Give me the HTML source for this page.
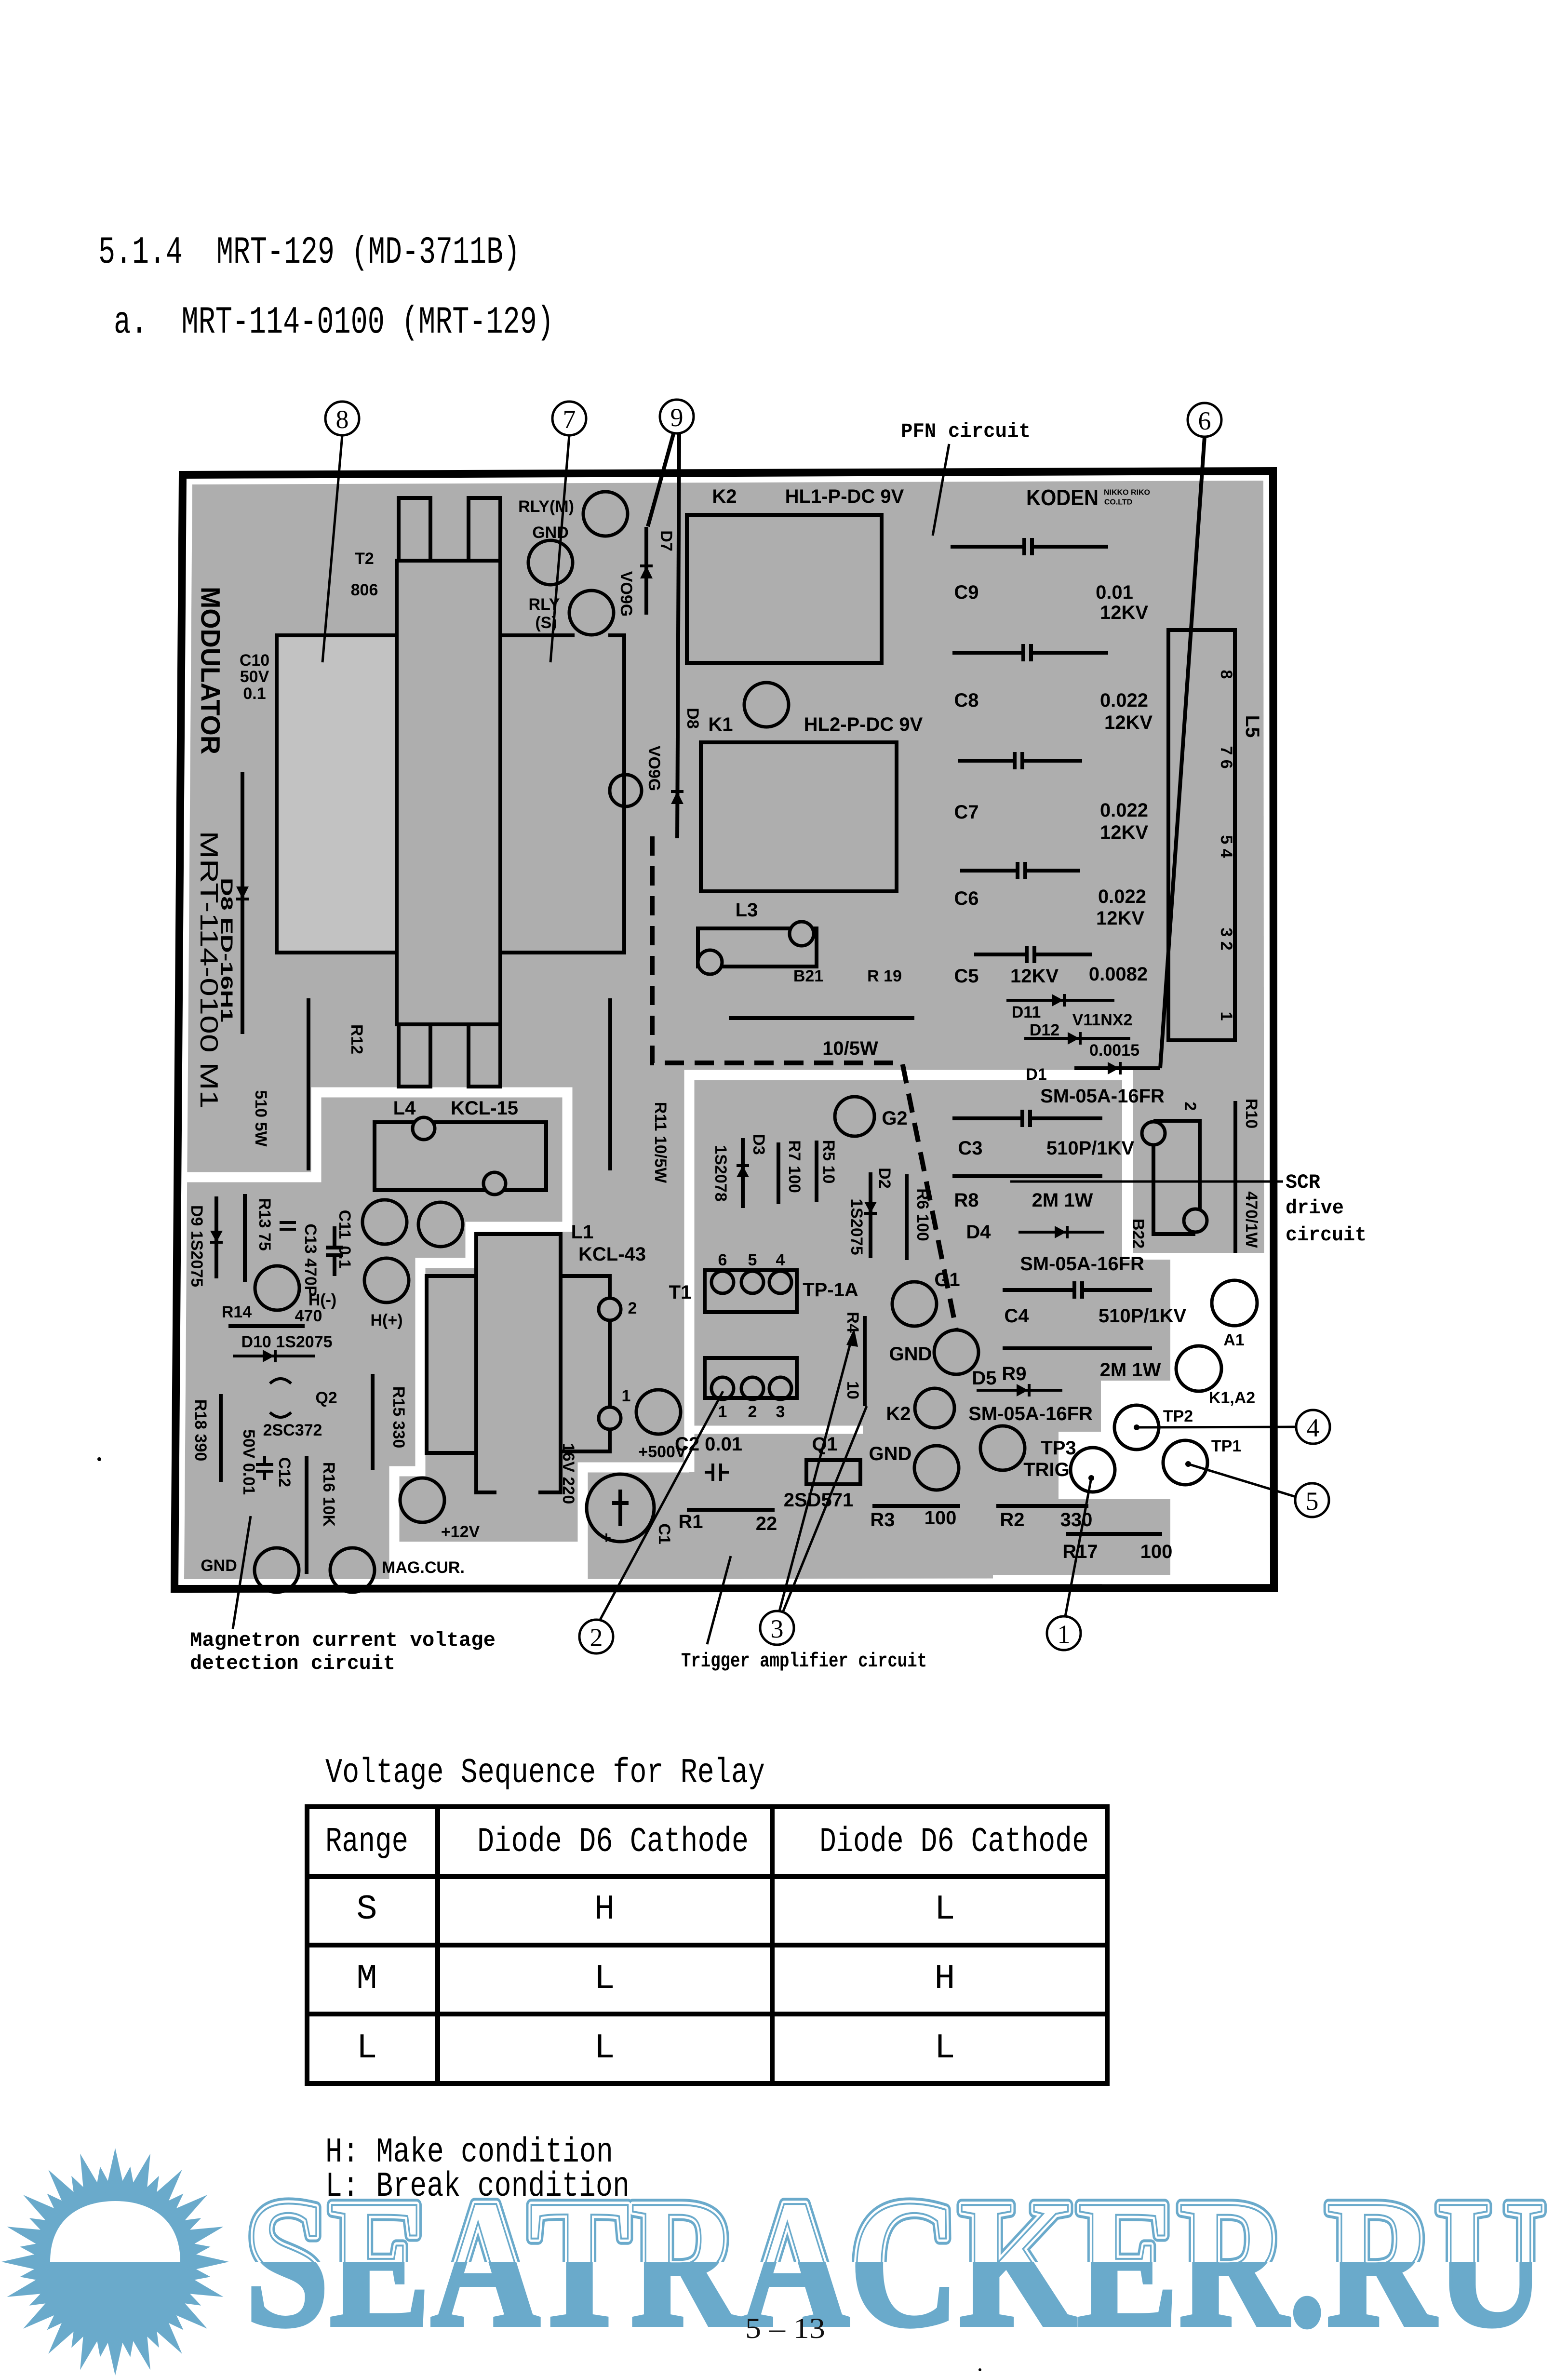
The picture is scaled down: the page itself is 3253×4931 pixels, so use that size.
<!DOCTYPE html>
<html><head><meta charset="utf-8"><title>MRT-129 (MD-3711B)</title>
<style>
html,body{margin:0;padding:0;background:#fff;}
body{width:3253px;height:4931px;overflow:hidden;}
svg{display:block}
.l{stroke:#000;stroke-width:8;fill:none}
.c{stroke:#000;stroke-width:7;fill:none}
.d{fill:#000;stroke:none}
.t{font-family:"Liberation Sans",sans-serif;font-weight:bold;font-size:40px;text-anchor:middle;dominant-baseline:central;fill:#000}
.s{font-size:34px}
.n{font-family:"Liberation Serif",serif;font-size:54px;text-anchor:middle;dominant-baseline:central;fill:#000}
.ty{font-family:"Liberation Mono",monospace;font-weight:bold;font-size:42px;fill:#000}
.mono{font-family:"Liberation Mono",monospace;fill:#000;white-space:pre}
</style></head>
<body>
<svg width="3253" height="4931" viewBox="0 0 3253 4931" xmlns="http://www.w3.org/2000/svg">
<defs>
<clipPath id="ctop"><rect x="0" y="0" width="3253" height="4692"/></clipPath>
<clipPath id="cbot"><rect x="0" y="4692" width="3253" height="300"/></clipPath>
</defs>
<rect width="3253" height="4931" fill="#fff"/>

<!-- Titles -->
<text class="mono" x="204" y="545" style="font-size:80px" textLength="875" lengthAdjust="spacingAndGlyphs">5.1.4  MRT-129 (MD-3711B)</text>
<text class="mono" x="236" y="690" style="font-size:80px" textLength="913" lengthAdjust="spacingAndGlyphs">a.  MRT-114-0100 (MRT-129)</text>

<!-- Board gray -->
<polygon points="399,1005 2621,997 2623,3274 382,3276" fill="#aeaeae"/>
<rect x="578" y="1322" width="241" height="650" fill="#c2c2c2"/>

<!-- White channels -->
<g fill="none" stroke="#fff" stroke-width="21" stroke-linejoin="miter">
<polyline points="375,2442 656,2442 656,2266 1177,2266 1177,2545 976,2545 976,2620 872,2620 872,3052 818,3052 818,3292"/>
<polyline points="1209,3292 1209,3044 1430,3044"/>
<polyline points="1430,3054 1430,2230 2340,2230 2340,2606"/>
</g>
<rect x="808" y="3198" width="411" height="94" fill="#fff"/>
<line x1="1430" y1="2966" x2="1790" y2="2966" stroke="#fff" stroke-width="17"/>
<polygon points="2328,2220 2351,2220 2351,2599 2632,2599 2632,3286 2428,3286 2428,3110 2196,3110 2196,2970 2284,2970 2284,2864 2428,2864 2428,2613 2328,2613" fill="#fff"/>
<rect x="2060" y="3267" width="372" height="20" fill="#fff"/>

<!-- Board border -->
<polygon points="379,985 2641,977 2643,3294 362,3296" fill="none" stroke="#000" stroke-width="16"/>

<!-- T2 transformer -->
<g class="l">
<rect x="827" y="1033" width="66" height="130"/>
<rect x="972" y="1033" width="66" height="130"/>
<rect x="823" y="1163" width="215" height="962"/>
<rect x="827" y="2125" width="66" height="129"/>
<rect x="972" y="2125" width="66" height="129"/>
<path d="M823,1318 H574 V1976 H823"/>
<path d="M1038,1318 H1192 M1262,1318 H1295 V1976 H1038"/>
</g>
<g class="c">
<circle cx="1256" cy="1066" r="46"/>
<circle cx="1142" cy="1167" r="46"/>
<circle cx="1227" cy="1271" r="46"/>
<circle cx="1298" cy="1640" r="33"/>
</g>
<text class="t s" x="1133" y="1051">RLY(M)</text>
<text class="t s" x="1142" y="1105">GND</text>
<text class="t s" x="1129" y="1254">RLY</text>
<text class="t s" x="1133" y="1292">(S)</text>
<text class="t s" x="756" y="1159">T2</text>
<text class="t s" x="756" y="1224">806</text>
<text class="t s" x="528" y="1370">C10</text>
<text class="t s" x="528" y="1404">50V</text>
<text class="t s" x="528" y="1439">0.1</text>
<text class="t s" transform="translate(1299,1232) rotate(90)">VO9G</text>
<text class="t s" transform="translate(1357,1594) rotate(90)">VO9G</text>
<text class="t s" transform="translate(1382,1122) rotate(90)">D7</text>
<text class="t s" transform="translate(1437,1490) rotate(90)">D8</text>
<text class="t" style="font-size:56px" transform="translate(437,1391) rotate(90)" textLength="348" lengthAdjust="spacingAndGlyphs">MODULATOR</text>
<text class="t" style="font-size:52px;font-weight:normal" transform="translate(433,2012) rotate(90)" textLength="577" lengthAdjust="spacingAndGlyphs">MRT-114-0100 M1</text>
<text class="t s" transform="translate(470,1971) rotate(90)" textLength="300" lengthAdjust="spacingAndGlyphs">D8 ED-16H1</text>

<!-- D7, D8 lines and 9 leaders -->
<g class="l">
<line x1="1341" y1="1093" x2="1341" y2="1275"/>
<line x1="1409" y1="897" x2="1405" y2="1739"/>
<line x1="1398" y1="897" x2="1344" y2="1092"/>
<line x1="503" y1="1602" x2="503" y2="2145"/>
<line x1="640" y1="2071" x2="640" y2="2428"/>
<line x1="1266" y1="2071" x2="1266" y2="2428"/>
</g>
<polygon class="d" points="1328,1200 1354,1200 1341,1174"/><line x1="1328" y1="1174" x2="1354" y2="1174" stroke="#000" stroke-width="6"/>
<polygon class="d" points="1392,1668 1418,1668 1405,1642"/><line x1="1392" y1="1642" x2="1418" y2="1642" stroke="#000" stroke-width="6"/>
<polygon class="d" points="490,1839 516,1839 503,1865"/><line x1="490" y1="1865" x2="516" y2="1865" stroke="#000" stroke-width="6"/>
<text class="t s" transform="translate(740,2156) rotate(90)">R12</text>
<text class="t s" transform="translate(541,2320) rotate(90)">510 5W</text>
<text class="t s" transform="translate(1370,2370) rotate(90)">R11 10/5W</text>

<!-- K2 / K1 relays, L3 -->
<g class="l">
<rect x="1425" y="1068" width="404" height="307"/>
<rect x="1454" y="1540" width="406" height="309"/>
<rect x="1448" y="1926" width="246" height="79"/>
<line x1="1512" y1="2112" x2="1897" y2="2112"/>
</g>
<g class="c">
<circle cx="1590" cy="1462" r="46"/>
</g>
<circle cx="1663" cy="1937" r="25" fill="#aeaeae" stroke="#000" stroke-width="7"/>
<circle cx="1473" cy="1996" r="25" fill="#aeaeae" stroke="#000" stroke-width="7"/>
<text class="t" x="1503" y="1030">K2</text>
<text class="t" x="1752" y="1030">HL1-P-DC 9V</text>
<text class="t" x="1495" y="1503">K1</text>
<text class="t" x="1791" y="1503">HL2-P-DC 9V</text>
<text class="t" x="1549" y="1888">L3</text>
<text class="t s" x="1677" y="2025">B21</text>
<text class="t s" x="1835" y="2025">R 19</text>
<text class="t" x="1764" y="2175">10/5W</text>

<!-- PFN capacitors -->
<g class="l">
<path d="M1972,1134 H2125 M2141,1134 H2299 M2125,1116 V1152 M2141,1116 V1152"/>
<path d="M1976,1354 H2123 M2139,1354 H2299 M2123,1336 V1372 M2139,1336 V1372"/>
<path d="M1988,1578 H2105 M2121,1578 H2245 M2105,1560 V1596 M2121,1560 V1596"/>
<path d="M1992,1806 H2111 M2127,1806 H2241 M2111,1788 V1824 M2127,1788 V1824"/>
<path d="M2021,1980 H2130 M2146,1980 H2266 M2130,1962 V1998 M2146,1962 V1998"/>
<line x1="2088" y1="2075" x2="2312" y2="2075" stroke-width="6"/>
<line x1="2125" y1="2154" x2="2345" y2="2154" stroke-width="6"/>
<rect x="2424" y="1307" width="138" height="851"/>
<line x1="2499" y1="906" x2="2407" y2="2216"/>
<line x1="2229" y1="2216" x2="2407" y2="2216"/>
</g>
<polygon class="d" points="2182,2062 2182,2088 2206,2075"/><line x1="2208" y1="2062" x2="2208" y2="2088" stroke="#000" stroke-width="6"/>
<polygon class="d" points="2215,2141 2215,2167 2239,2154"/><line x1="2241" y1="2141" x2="2241" y2="2167" stroke="#000" stroke-width="6"/>
<polygon class="d" points="2298,2203 2298,2229 2322,2216"/><line x1="2324" y1="2203" x2="2324" y2="2229" stroke="#000" stroke-width="6"/>
<text class="t" x="2005" y="1229">C9</text>
<text class="t" x="2312" y="1229">0.01</text>
<text class="t" x="2332" y="1271">12KV</text>
<text class="t" x="2005" y="1453">C8</text>
<text class="t" x="2332" y="1453">0.022</text>
<text class="t" x="2341" y="1499">12KV</text>
<text class="t" x="2005" y="1685">C7</text>
<text class="t" x="2332" y="1681">0.022</text>
<text class="t" x="2332" y="1727">12KV</text>
<text class="t" x="2005" y="1864">C6</text>
<text class="t" x="2328" y="1860">0.022</text>
<text class="t" x="2324" y="1905">12KV</text>
<text class="t" x="2005" y="2025">C5</text>
<text class="t" x="2146" y="2025">12KV</text>
<text class="t" x="2320" y="2021">0.0082</text>
<text class="t s" x="2129" y="2100">D11</text>
<text class="t s" x="2167" y="2137">D12</text>
<text class="t s" x="2287" y="2116">V11NX2</text>
<text class="t s" x="2312" y="2179">0.0015</text>
<text class="t s" x="2150" y="2229">D1</text>
<text class="t" style="font-size:46px" x="2204" y="1032" textLength="150" lengthAdjust="spacingAndGlyphs">KODEN</text>
<text class="t" style="font-size:16px" x="2338" y="1022">NIKKO RIKO</text>
<text class="t" style="font-size:16px" x="2320" y="1042">CO.LTD</text>
<text class="t s" transform="translate(2544,1399) rotate(90)">8</text>
<text class="t s" transform="translate(2544,1571) rotate(90)">7 6</text>
<text class="t s" transform="translate(2544,1756) rotate(90)">5 4</text>
<text class="t s" transform="translate(2544,1948) rotate(90)">3 2</text>
<text class="t s" transform="translate(2544,2108) rotate(90)">1</text>
<text class="t" transform="translate(2598,1507) rotate(90)">L5</text>

<!-- PFN dashed boundary -->
<path d="M1353,1735 V2205 H1872 L1984,2759" fill="none" stroke="#000" stroke-width="10" stroke-dasharray="40 22"/>

<!-- Trigger amp / SCR area -->
<g class="l">
<path d="M1976,2320 H2121 M2137,2320 H2287 M2121,2302 V2338 M2137,2302 V2338"/>
<line x1="1976" y1="2440" x2="2287" y2="2440"/>
<line x1="2096" y1="2451" x2="2662" y2="2451" stroke-width="5"/>
<line x1="2113" y1="2556" x2="2291" y2="2556" stroke-width="6"/>
<path d="M2080,2676 H2229 M2245,2676 H2390 M2229,2658 V2694 M2245,2658 V2694"/>
<line x1="2080" y1="2797" x2="2390" y2="2797"/>
<line x1="2026" y1="2884" x2="2204" y2="2884" stroke-width="6"/>
<rect x="1673" y="3029" width="112" height="50"/>
<line x1="1794" y1="2730" x2="1794" y2="2917"/>
<line x1="1541" y1="2361" x2="1541" y2="2506"/>
<line x1="1615" y1="2370" x2="1615" y2="2498"/>
<line x1="1694" y1="2366" x2="1694" y2="2494"/>
<line x1="1806" y1="2432" x2="1806" y2="2610"/>
<line x1="1881" y1="2436" x2="1881" y2="2614"/>
<rect x="1462" y="2635" width="191" height="87"/>
<rect x="1462" y="2817" width="191" height="83"/>
<line x1="2563" y1="2284" x2="2563" y2="2599"/>
<path d="M2393,2325 H2489 V2532 M2393,2351 V2560 H2480"/>
<line x1="2067" y1="3124" x2="2258" y2="3124"/>
<line x1="2212" y1="3182" x2="2411" y2="3182"/>
<line x1="1810" y1="3124" x2="1992" y2="3124"/>
<line x1="1425" y1="3132" x2="1607" y2="3132"/>
<path d="M1479,3036 V3072 M1495,3036 V3072 M1462,3054 H1479 M1495,3054 H1512" stroke-width="6"/>
</g>
<polygon class="d" points="2188,2543 2188,2569 2212,2556"/><line x1="2214" y1="2543" x2="2214" y2="2569" stroke="#000" stroke-width="6"/>
<polygon class="d" points="2109,2871 2109,2897 2133,2884"/><line x1="2135" y1="2871" x2="2135" y2="2897" stroke="#000" stroke-width="6"/>
<polygon class="d" points="1528,2442 1554,2442 1541,2418"/><line x1="1528" y1="2418" x2="1554" y2="2418" stroke="#000" stroke-width="6"/>
<polygon class="d" points="1793,2493 1819,2493 1806,2517"/><line x1="1793" y1="2517" x2="1819" y2="2517" stroke="#000" stroke-width="6"/>
<g class="c">
<circle cx="1939" cy="2921" r="41"/>
<circle cx="1943" cy="3045" r="46"/>
<circle cx="1897" cy="2705" r="46"/>
<circle cx="1984" cy="2805" r="46"/>
<circle cx="1773" cy="2316" r="41"/>
<circle cx="2267" cy="3049" r="46"/>
<circle cx="2080" cy="3004" r="46"/>
<circle cx="2358" cy="2961" r="46"/>
<circle cx="2459" cy="3034" r="46"/>
<circle cx="2561" cy="2703" r="47"/>
<circle cx="2487" cy="2839" r="47"/>
<circle cx="1499" cy="2660" r="23"/>
<circle cx="1561" cy="2660" r="23"/>
<circle cx="1619" cy="2660" r="23"/>
<circle cx="1499" cy="2880" r="23"/>
<circle cx="1561" cy="2880" r="23"/>
<circle cx="1619" cy="2880" r="23"/>
</g>
<circle cx="2393" cy="2351" r="24" fill="#aeaeae" stroke="#000" stroke-width="7"/>
<circle cx="2480" cy="2532" r="24" fill="#aeaeae" stroke="#000" stroke-width="7"/>
<text class="t" x="2287" y="2274">SM-05A-16FR</text>
<text class="t" x="2013" y="2382">C3</text>
<text class="t" x="2262" y="2382">510P/1KV</text>
<text class="t" x="2005" y="2490">R8</text>
<text class="t" x="2204" y="2490">2M 1W</text>
<text class="t" x="2030" y="2556">D4</text>
<text class="t" x="2245" y="2622">SM-05A-16FR</text>
<text class="t" x="2109" y="2730">C4</text>
<text class="t" x="2370" y="2730">510P/1KV</text>
<text class="t" x="2345" y="2842">2M 1W</text>
<text class="t" x="2104" y="2850">R9</text>
<text class="t" x="2042" y="2859">D5</text>
<text class="t" x="2138" y="2933">SM-05A-16FR</text>
<text class="t" x="1864" y="2933">K2</text>
<text class="t" x="1847" y="3016">GND</text>
<text class="t" x="1711" y="2996">Q1</text>
<text class="t" x="1698" y="3112">2SD571</text>
<text class="t s" transform="translate(1769,2743) rotate(90)">R4</text>
<text class="t s" transform="translate(1769,2884) rotate(90)">10</text>
<text class="t" x="1965" y="2655">G1</text>
<text class="t" x="1889" y="2809">GND</text>
<text class="t" x="1856" y="2320">G2</text>
<text class="t s" transform="translate(1495,2434) rotate(90)">1S2078</text>
<text class="t s" transform="translate(1574,2374) rotate(90)">D3</text>
<text class="t s" transform="translate(1648,2420) rotate(90)">R7 100</text>
<text class="t s" transform="translate(1719,2410) rotate(90)">R5 10</text>
<text class="t s" transform="translate(1835,2444) rotate(90)">D2</text>
<text class="t s" transform="translate(1777,2545) rotate(90)">1S2075</text>
<text class="t s" transform="translate(1914,2520) rotate(90)">R6 100</text>
<text class="t s" x="1499" y="2614">6</text>
<text class="t s" x="1561" y="2614">5</text>
<text class="t s" x="1619" y="2614">4</text>
<text class="t s" x="1499" y="2929">1</text>
<text class="t s" x="1561" y="2929">2</text>
<text class="t s" x="1619" y="2929">3</text>
<text class="t" x="1723" y="2676">TP-1A</text>
<text class="t" x="1411" y="2681">T1</text>
<text class="t" x="2196" y="3004">TP3</text>
<text class="t" x="2171" y="3049">TRIG</text>
<text class="t s" x="2444" y="2938">TP2</text>
<text class="t s" x="2544" y="3000">TP1</text>
<text class="t s" x="2560" y="2780">A1</text>
<text class="t s" x="2556" y="2900">K1,A2</text>
<text class="t s" transform="translate(2596,2310) rotate(90)">R10</text>
<text class="t s" transform="translate(2596,2530) rotate(90)">470/1W</text>
<text class="t s" transform="translate(2361,2559) rotate(90)">B22</text>
<text class="t s" transform="translate(2469,2295) rotate(90)">2</text>
<text class="t" x="2100" y="3153">R2</text>
<text class="t" x="2233" y="3153">330</text>
<text class="t" x="2241" y="3219">R17</text>
<text class="t" x="2399" y="3219">100</text>
<text class="t" x="1831" y="3153">R3</text>
<text class="t" x="1951" y="3149">100</text>
<text class="t" x="1433" y="3157">R1</text>
<text class="t" x="1590" y="3161">22</text>
<text class="t" x="1470" y="2996">C2 0.01</text>

<!-- Left lower area -->
<g class="l">
<rect x="777" y="2328" width="356" height="141"/>
<line x1="694" y1="2544" x2="694" y2="2588"/><line x1="694" y1="2604" x2="694" y2="2647"/>
<line x1="676" y1="2588" x2="712" y2="2588"/><line x1="676" y1="2604" x2="712" y2="2604"/>
<line x1="508" y1="2477" x2="508" y2="2660"/>
<line x1="449" y1="2482" x2="449" y2="2652"/>
<line x1="474" y1="2751" x2="632" y2="2751"/>
<line x1="483" y1="2813" x2="653" y2="2813" stroke-width="6"/>
<line x1="458" y1="2892" x2="458" y2="3074"/>
<line x1="636" y1="3020" x2="636" y2="3265"/>
<line x1="773" y1="2850" x2="773" y2="3049"/>
<path d="M531,3038 H567 M531,3052 H567 M549,3020 V3038 M549,3052 V3070" stroke-width="6"/>
<path d="M580,2536 H614 M580,2550 H614" stroke-width="6"/>
<path d="M560,2870 Q582,2850 604,2870" stroke-width="6"/>
<path d="M560,2930 Q582,2950 604,2930" stroke-width="6"/>
<rect x="885" y="2647" width="103" height="367"/>
<path d="M1030,3096 H988 V2560 H1163 V3096 H1117"/>
<path d="M1163,2647 H1265 V3011 H1163"/>
</g>
<polygon class="d" points="436,2553 462,2553 449,2577"/><line x1="436" y1="2577" x2="462" y2="2577" stroke="#000" stroke-width="6"/>
<polygon class="d" points="545,2800 545,2826 569,2813"/><line x1="571" y1="2800" x2="571" y2="2826" stroke="#000" stroke-width="6"/>
<g class="c">
<circle cx="798" cy="2535" r="46"/>
<circle cx="914" cy="2540" r="46"/>
<circle cx="802" cy="2656" r="46"/>
<circle cx="575" cy="2672" r="46"/>
<circle cx="574" cy="3257" r="46"/>
<circle cx="731" cy="3257" r="46"/>
<circle cx="1366" cy="2929" r="46"/>
<circle cx="876" cy="3112" r="46"/>
<circle cx="1287" cy="3128" r="70"/>
</g>
<circle cx="879" cy="2341" r="23" fill="#aeaeae" stroke="#000" stroke-width="7"/>
<circle cx="1026" cy="2455" r="23" fill="#aeaeae" stroke="#000" stroke-width="7"/>
<circle cx="1265" cy="2716" r="23" fill="#aeaeae" stroke="#000" stroke-width="7"/>
<circle cx="1265" cy="2942" r="23" fill="#aeaeae" stroke="#000" stroke-width="7"/>
<path d="M1287,3090 V3166 M1270,3118 H1304" stroke="#000" stroke-width="8"/>
<text class="t" x="839" y="2299">L4</text>
<text class="t" x="1005" y="2299">KCL-15</text>
<text class="t s" x="669" y="2697">H(-)</text>
<text class="t s" x="802" y="2739">H(+)</text>
<text class="t s" x="491" y="2722">R14</text>
<text class="t s" x="640" y="2730">470</text>
<text class="t s" transform="translate(715,2540) rotate(90)">C11</text>
<text class="t s" transform="translate(715,2608) rotate(90)">0.1</text>
<text class="t s" transform="translate(644,2614) rotate(90)">C13 470P</text>
<text class="t s" transform="translate(549,2540) rotate(90)">R13 75</text>
<text class="t s" transform="translate(408,2585) rotate(90)">D9 1S2075</text>
<text class="t s" x="595" y="2784">D10 1S2075</text>
<text class="t s" x="677" y="2900">Q2</text>
<text class="t s" x="607" y="2967">2SC372</text>
<text class="t s" transform="translate(416,2967) rotate(90)">R18 390</text>
<text class="t s" transform="translate(516,3033) rotate(90)">50V 0.01</text>
<text class="t s" transform="translate(590,3054) rotate(90)">C12</text>
<text class="t s" transform="translate(682,3100) rotate(90)">R16 10K</text>
<text class="t s" transform="translate(827,2940) rotate(90)">R15 330</text>
<text class="t s" x="454" y="3248">GND</text>
<text class="t s" x="878" y="3252">MAG.CUR.</text>
<text class="t" x="1208" y="2556">L1</text>
<text class="t" x="1270" y="2602">KCL-43</text>
<text class="t s" x="1312" y="2714">2</text>
<text class="t s" x="1299" y="2896">1</text>
<text class="t s" x="1374" y="3012">+500V</text>
<text class="t s" x="955" y="3178">+12V</text>
<text class="t s" transform="translate(1179,3057) rotate(90)">16V 220</text>
<text class="t s" transform="translate(1378,3182) rotate(90)">C1</text>
<text class="t s" x="1258" y="3190">+</text>

<!-- Leaders -->
<g stroke="#000" stroke-width="5" fill="none">
<line x1="710" y1="903" x2="669" y2="1374"/>
<line x1="1181" y1="903" x2="1142" y2="1374"/>
<line x1="1969" y1="921" x2="1935" y2="1111"/>
<line x1="2358" y1="2961" x2="2689" y2="2960"/>
<line x1="2465" y1="3037" x2="2688" y2="3105"/>
<line x1="2264" y1="3066" x2="2210" y2="3353"/>
<line x1="1500" y1="2886" x2="1245" y2="3360"/>
<line x1="1617" y1="3342" x2="1769" y2="2768"/>
<line x1="1625" y1="3342" x2="1798" y2="2917"/>
<line x1="1516" y1="3228" x2="1467" y2="3411"/>
<line x1="520" y1="3145" x2="483" y2="3379"/>
</g>
<polygon class="d" points="1772,2756 1756,2790 1780,2794"/>
<circle cx="2358" cy="2961" r="6" fill="#000"/>
<circle cx="2465" cy="3037" r="6" fill="#000"/>
<circle cx="2264" cy="3066" r="6" fill="#000"/>

<!-- Circled numbers -->
<g fill="#fff" stroke="#000" stroke-width="5">
<circle cx="710" cy="868" r="35"/>
<circle cx="1181" cy="868" r="35"/>
<circle cx="1404" cy="864" r="35"/>
<circle cx="2499" cy="871" r="35"/>
<circle cx="2724" cy="2960" r="35"/>
<circle cx="2722" cy="3112" r="35"/>
<circle cx="1237" cy="3395" r="35"/>
<circle cx="1612" cy="3377" r="35"/>
<circle cx="2207" cy="3388" r="35"/>
</g>
<text class="n" x="710" y="870">8</text>
<text class="n" x="1181" y="870">7</text>
<text class="n" x="1404" y="866">9</text>
<text class="n" x="2499" y="873">6</text>
<text class="n" x="2724" y="2962">4</text>
<text class="n" x="2722" y="3114">5</text>
<text class="n" x="1237" y="3397">2</text>
<text class="n" x="1612" y="3379">3</text>
<text class="n" x="2207" y="3390">1</text>

<!-- Annotation texts -->
<text class="ty" x="1869" y="906" textLength="269" lengthAdjust="spacingAndGlyphs">PFN circuit</text>
<text class="ty" x="2667" y="2464" textLength="72" lengthAdjust="spacingAndGlyphs">SCR</text>
<text class="ty" x="2667" y="2517" textLength="121" lengthAdjust="spacingAndGlyphs">drive</text>
<text class="ty" x="2667" y="2573" textLength="168" lengthAdjust="spacingAndGlyphs">circuit</text>
<text class="ty" x="394" y="3414" textLength="634" lengthAdjust="spacingAndGlyphs">Magnetron current voltage</text>
<text class="ty" x="394" y="3462" textLength="426" lengthAdjust="spacingAndGlyphs">detection circuit</text>
<text class="ty" x="1413" y="3457" textLength="510" lengthAdjust="spacingAndGlyphs">Trigger amplifier circuit</text>
<circle cx="206" cy="3027" r="4" fill="#000"/>

<!-- Table -->
<text class="mono" x="675" y="3697" style="font-size:72px" textLength="912" lengthAdjust="spacingAndGlyphs">Voltage Sequence for Relay</text>
<g stroke="#000" stroke-width="10" fill="none">
<rect x="637" y="3748" width="1660" height="574"/>
<line x1="908" y1="3748" x2="908" y2="4322"/>
<line x1="1602" y1="3748" x2="1602" y2="4322"/>
<line x1="637" y1="3893" x2="2297" y2="3893"/>
<line x1="637" y1="4035" x2="2297" y2="4035"/>
<line x1="637" y1="4178" x2="2297" y2="4178"/>
</g>
<text class="mono" x="675" y="3840" style="font-size:72px" textLength="172" lengthAdjust="spacingAndGlyphs">Range</text>
<text class="mono" x="990" y="3840" style="font-size:72px" textLength="563" lengthAdjust="spacingAndGlyphs">Diode D6 Cathode</text>
<text class="mono" x="1700" y="3840" style="font-size:72px" textLength="559" lengthAdjust="spacingAndGlyphs">Diode D6 Cathode</text>
<g class="mono" style="font-size:72px" text-anchor="middle">
<text x="761" y="3980">S</text><text x="1254" y="3980">H</text><text x="1960" y="3980">L</text>
<text x="761" y="4124">M</text><text x="1254" y="4124">L</text><text x="1960" y="4124">H</text>
<text x="761" y="4268">L</text><text x="1254" y="4268">L</text><text x="1960" y="4268">L</text>
</g>

<!-- Watermark sunburst -->
<g fill="#6aaacb">
<polygon points="475,4692 377.3,4713.9 463.5,4764.9 363.7,4755.6 429.9,4830.7 338,4791 377.7,4882.9 302.6,4816.7 311.9,4916.5 260.9,4830.3 239,4928 217.1,4830.3 166.1,4916.5 175.4,4816.7 100.3,4882.9 140,4791 48.1,4830.7 114.3,4755.6 14.5,4764.9 100.7,4713.9 3,4692 100.7,4670.1 14.5,4619.1 114.3,4628.4 48.1,4553.3 140,4593 100.3,4501.1 175.4,4567.3 166.1,4467.5 217.1,4553.7 239,4456 260.9,4553.7 311.9,4467.5 302.6,4567.3 377.7,4501.1 338,4593 429.9,4553.3 363.7,4628.4 463.5,4619.1 377.3,4670.1"/>
<polygon points="436.5,4723.3 372.2,4735.3 417.2,4782.8 352.3,4774.3 380.4,4833.4 321.3,4805.3 329.8,4870.2 282.3,4825.2 270.3,4889.5 239,4832 207.7,4889.5 195.7,4825.2 148.2,4870.2 156.7,4805.3 97.6,4833.4 125.7,4774.3 60.8,4782.8 105.8,4735.3 41.5,4723.3 99,4692 41.5,4660.7 105.8,4648.7 60.8,4601.2 125.7,4609.7 97.6,4550.6 156.7,4578.7 148.2,4513.8 195.7,4558.8 207.7,4494.5 239,4552 270.3,4494.5 282.3,4558.8 329.8,4513.8 321.3,4578.7 380.4,4550.6 352.3,4609.7 417.2,4601.2 372.2,4648.7 436.5,4660.7 379,4692"/>
<circle cx="239" cy="4692" r="145"/>
</g>
<path d="M104,4692 C104,4600 170,4566 239,4566 C308,4566 374,4600 374,4692 Z" fill="#fff"/>

<!-- Watermark text -->
<g font-family="'Liberation Serif',serif" font-weight="bold" style="font-size:380px">
<g clip-path="url(#ctop)">
<text x="508" y="4823" textLength="2698" lengthAdjust="spacingAndGlyphs" fill="#6aaacb" stroke="#6aaacb" stroke-width="26" stroke-linejoin="round">SEATRACKER.RU</text>
<text x="508" y="4823" textLength="2698" lengthAdjust="spacingAndGlyphs" fill="#fff" stroke="#fff" stroke-width="14" stroke-linejoin="round">SEATRACKER.RU</text>
<text x="508" y="4823" textLength="2698" lengthAdjust="spacingAndGlyphs" fill="#fff" stroke="#6aaacb" stroke-width="4">SEATRACKER.RU</text>
</g>
<g clip-path="url(#cbot)">
<text x="508" y="4823" textLength="2698" lengthAdjust="spacingAndGlyphs" fill="#6aaacb" stroke="#6aaacb" stroke-width="8">SEATRACKER.RU</text>
</g>
</g>

<!-- Legend (on top of watermark) -->
<text class="mono" x="675" y="4484" style="font-size:72px" textLength="597" lengthAdjust="spacingAndGlyphs">H: Make condition</text>
<text class="mono" x="675" y="4555" style="font-size:72px" textLength="631" lengthAdjust="spacingAndGlyphs">L: Break condition</text>

<text x="1629" y="4850" font-family="'Liberation Serif',serif" style="font-size:60px" text-anchor="middle" fill="#111" textLength="166" lengthAdjust="spacingAndGlyphs">5 – 13</text>
<circle cx="2033" cy="4916" r="3" fill="#000"/>
</svg>
</body></html>
